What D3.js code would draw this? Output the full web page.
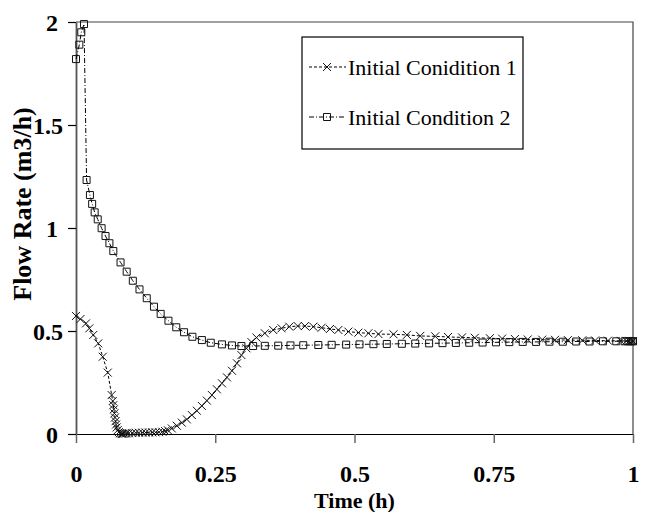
<!DOCTYPE html>
<html>
<head>
    <meta charset='utf-8'>
    <title>Flow Rate</title>
    <script type="text/javascript" src="https://cdnjs.cloudflare.com/ajax/libs/d3/7.8.5/d3.min.js"></script>
    <style>
        body { margin: 0; background: #fff; }
        text { font-family: 'Liberation Serif', 'Times New Roman', serif; }
    </style>
</head>
<body>
    <script>
        // Initial Conidition 1 (x markers)
        const time1 = [0, 0.008, 0.018, 0.024, 0.031, 0.040, 0.048, 0.057, 0.064, 0.066, 0.067, 0.068, 0.069, 0.070,
            0.071, 0.072, 0.073, 0.075, 0.077, 0.079, 0.081, 0.083, 0.085, 0.088, 0.091, 0.095, 0.101, 0.107, 0.113,
            0.119, 0.125, 0.131, 0.137, 0.143, 0.149, 0.155, 0.160, 0.165, 0.172, 0.181, 0.190, 0.199, 0.208, 0.217,
            0.226, 0.235, 0.244, 0.253, 0.262, 0.271, 0.280, 0.289, 0.297, 0.306, 0.315, 0.324, 0.339, 0.354, 0.369,
            0.383, 0.398, 0.411, 0.426, 0.441, 0.456, 0.471, 0.489, 0.507, 0.525, 0.543, 0.570, 0.594, 0.618, 0.645,
            0.668, 0.693, 0.716, 0.743, 0.765, 0.788, 0.811, 0.837, 0.860, 0.883, 0.909, 0.932, 0.955, 0.978, 0.988,
            0.993, 0.997, 1.0];
        const flow1 = [0.573, 0.558, 0.537, 0.513, 0.481, 0.440, 0.375, 0.298, 0.189, 0.160, 0.140, 0.120, 0.100, 0.080,
            0.062, 0.046, 0.032, 0.019, 0.009, 0.004, 0.002, 0.001, 0.001, 0.002, 0.003, 0.004, 0.005, 0.006, 0.006,
            0.007, 0.007, 0.007, 0.008, 0.008, 0.009, 0.011, 0.014, 0.018, 0.027, 0.040, 0.055, 0.071, 0.092, 0.113,
            0.136, 0.162, 0.189, 0.217, 0.246, 0.275, 0.307, 0.343, 0.383, 0.416, 0.446, 0.468, 0.489, 0.505, 0.513,
            0.521, 0.524, 0.524, 0.521, 0.516, 0.510, 0.505, 0.497, 0.492, 0.489, 0.485, 0.484, 0.481, 0.476, 0.474,
            0.471, 0.469, 0.467, 0.465, 0.463, 0.461, 0.459, 0.458, 0.457, 0.456, 0.455, 0.454, 0.453, 0.452, 0.452,
            0.451, 0.451, 0.451];

        // Initial Condition 2 (square markers)
        const time2 = [0, 0.006, 0.0095, 0.0144, 0.019, 0.025, 0.029, 0.0335, 0.039, 0.046, 0.053, 0.060, 0.067,
            0.080, 0.091, 0.102, 0.114, 0.127, 0.140, 0.152, 0.166, 0.180, 0.194, 0.209, 0.226, 0.242, 0.262, 0.280,
            0.297, 0.318, 0.339, 0.363, 0.385, 0.408, 0.435, 0.459, 0.485, 0.509, 0.534, 0.558, 0.585, 0.609, 0.634,
            0.658, 0.682, 0.706, 0.730, 0.754, 0.778, 0.802, 0.826, 0.850, 0.874, 0.898, 0.922, 0.946, 0.970, 0.985,
            0.992, 0.997, 1.0];
        const flow2 = [1.82, 1.89, 1.95, 1.99, 1.233, 1.16, 1.117, 1.076, 1.042, 0.999, 0.961, 0.926, 0.888,
            0.833, 0.788, 0.744, 0.702, 0.659, 0.618, 0.583, 0.550, 0.518, 0.494, 0.472, 0.456, 0.443, 0.435, 0.430,
            0.427, 0.427, 0.428, 0.429, 0.430, 0.431, 0.432, 0.433, 0.434, 0.435, 0.436, 0.437, 0.438, 0.439, 0.440,
            0.441, 0.442, 0.443, 0.444, 0.445, 0.446, 0.447, 0.447, 0.448, 0.448, 0.449, 0.449, 0.450, 0.450, 0.450,
            0.450, 0.450, 0.450];

        const seriesNames = ["Initial Conidition 1", "Initial Condition 2"];
        const xTicks = [0, 0.25, 0.5, 0.75, 1];
        const xTickLabels = ["0", "0.25", "0.5", "0.75", "1"];
        const yTicks = [0, 0.5, 1, 1.5, 2];
        const yTickLabels = ["0", "0.5", "1", "1.5", "2"];

        const w = 646;
        const h = 512;
        const plotLeft = 76, plotRight = 633, plotTop = 22, plotBottom = 434;

        const xScale = d3.scaleLinear().domain([0, 1]).range([plotLeft, plotRight]);
        const yScale = d3.scaleLinear().domain([0, 2]).range([plotBottom, plotTop]);

        const svg = d3.select("body")
            .append("svg")
            .attr("width", w)
            .attr("height", h);

        // frame (top and right)
        svg.append("path")
            .attr("d", "M" + plotLeft + "," + plotTop + "H" + plotRight + "V" + plotBottom)
            .attr("fill", "none")
            .attr("stroke", "#444")
            .attr("stroke-width", 1.2);

        const xAxis = d3.axisBottom(xScale)
            .tickValues(xTicks)
            .tickFormat((d, i) => xTickLabels[i])
            .tickSize(9)
            .tickSizeOuter(0);
        const yAxis = d3.axisLeft(yScale)
            .tickValues(yTicks)
            .tickFormat((d, i) => yTickLabels[i])
            .tickSize(8)
            .tickSizeOuter(0);

        const gx = svg.append("g")
            .attr("transform", "translate(0," + plotBottom + ")")
            .call(xAxis);
        gx.select(".domain").attr("stroke", "#000").attr("stroke-width", 1.2);
        gx.selectAll(".tick line").attr("stroke", "#666").attr("stroke-width", 1.5);
        gx.selectAll(".tick text")
            .attr("y", 48)
            .attr("dy", null);

        const gy = svg.append("g")
            .attr("transform", "translate(" + plotLeft + ",0)")
            .call(yAxis);
        gy.select(".domain").attr("stroke", "#555").attr("stroke-width", 1.8);
        gy.selectAll(".tick line").attr("stroke", "#000").attr("stroke-width", 1.2);
        gy.selectAll(".tick text")
            .attr("x", (d, i) => yTickLabels[i].indexOf(".") >= 0 ? -13 : -18)
            .attr("dy", "0.35em");

        svg.selectAll("g").attr("font-family", null).attr("font-size", null);
        svg.selectAll(".tick text")
            .style("font-weight", "bold")
            .style("font-size", "24px")
            .attr("fill", "#000");

        // axis titles
        svg.append("text")
            .attr("x", (plotLeft + plotRight) / 2)
            .attr("y", 508)
            .attr("text-anchor", "middle")
            .style("font-weight", "bold")
            .style("font-size", "22px")
            .text("Time (h)");

        svg.append("text")
            .attr("transform", "translate(22,204) rotate(-90)")
            .attr("dy", "0.35em")
            .attr("text-anchor", "middle")
            .style("font-weight", "bold")
            .style("font-size", "26px")
            .text("Flow Rate (m3/h)");

        const data1 = time1.map((t, i) => [t, flow1[i]]);
        const data2 = time2.map((t, i) => [t, flow2[i]]);

        const line = d3.line()
            .x(d => xScale(d[0]))
            .y(d => yScale(d[1]));

        const crossPath = "M-4,-4L4,4M-4,4L4,-4";
        const squarePath = "M-3.5,-3.5H3.5V3.5H-3.5Z";

        function drawSeries(data, dash, marker) {
            const g = svg.append("g");
            g.append("path")
                .datum(data)
                .attr("d", line)
                .attr("fill", "none")
                .attr("stroke", "#000")
                .attr("stroke-width", 1)
                .attr("stroke-dasharray", dash);
            g.selectAll("path.mark")
                .data(data)
                .enter()
                .append("path")
                .attr("class", "mark")
                .attr("transform", d => "translate(" + xScale(d[0]) + "," + yScale(d[1]) + ")")
                .attr("d", marker)
                .attr("fill", "none")
                .attr("stroke", "#111")
                .attr("stroke-width", 1);
        }

        drawSeries(data2, "5,2,1,2", squarePath);
        drawSeries(data1, "3,2", crossPath);

        // legend
        const legend = svg.append("g");
        legend.append("rect")
            .attr("x", 302)
            .attr("y", 37)
            .attr("width", 221)
            .attr("height", 112)
            .attr("fill", "#fff")
            .attr("stroke", "#000")
            .attr("stroke-width", 1.2);

        const legendItems = [
            { name: seriesNames[0], dash: "3,2", marker: crossPath },
            { name: seriesNames[1], dash: "5,2,1,2", marker: squarePath }
        ];
        legendItems.forEach((item, i) => {
            const cy = 67 + i * 50;
            legend.append("line")
                .attr("x1", 309).attr("x2", 346)
                .attr("y1", cy).attr("y2", cy)
                .attr("stroke", "#000")
                .attr("stroke-width", 1)
                .attr("stroke-dasharray", item.dash);
            legend.append("path")
                .attr("transform", "translate(327," + cy + ")")
                .attr("d", item.marker)
                .attr("fill", "none")
                .attr("stroke", "#111");
            legend.append("text")
                .attr("x", 348)
                .attr("y", cy)
                .attr("dy", "0.35em")
                .style("font-size", "22px")
                .text(item.name);
        });
    </script>
</body>
</html>
